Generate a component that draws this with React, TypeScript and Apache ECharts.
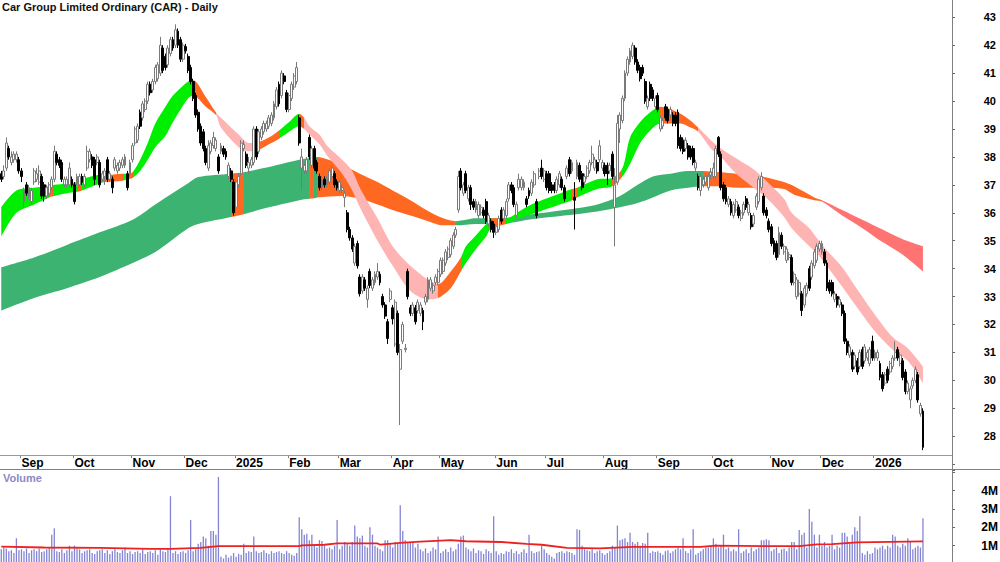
import React, { useEffect, useRef } from "react";
import * as echarts from "echarts";

// ---------- categories: ASX trading days shown on the chart ----------
const FIRST_DAY = "2024-08-21";
const LAST_DAY = "2026-01-30";
const HOLIDAYS = [
  "2024-12-25", "2024-12-26", "2025-01-01", "2025-01-27", "2025-04-18", "2025-04-21",
  "2025-04-25", "2025-06-09", "2025-12-25", "2025-12-26", "2026-01-01", "2026-01-26",
];
const EMPTY_SLOTS_AFTER_LAST_BAR = 11;
const MONTHS = ["Jan", "Feb", "Mar", "Apr", "May", "Jun", "Jul", "Aug", "Sep", "Oct", "Nov", "Dec"];

// ---------- daily candles, rows are [open, high, low, close] ----------
const ohlc: number[][] = [
  [37.4,37.5,37.1,37.2],[37.3,37.7,37.2,37.5],[37.6,38.7,37.5,38.5],[38.3,38.4,37.9,38.0],[37.8,38.2,37.7,38.0],
  [37.9,38.2,37.8,38.1],[37.9,38.2,37.8,38.1],[37.9,38.0,37.4,37.5],[37.5,37.6,37.1,37.3],[36.4,36.9,36.2,36.8],
  [37.0,37.1,36.6,36.7],[36.6,37.0,36.5,36.9],[36.4,36.9,36.3,36.8],[37.1,37.6,37.0,37.5],[37.2,37.6,37.1,37.4],
  [37.1,37.7,37.0,37.5],[37.3,37.4,36.5,36.6],[37.0,37.1,36.4,36.6],[36.6,37.0,36.5,36.9],[36.7,37.1,36.6,37.0],
  [36.9,37.3,36.8,37.2],[37.2,38.4,37.1,38.2],[38.1,38.2,37.7,37.8],[37.9,38.0,37.6,37.7],[37.8,37.9,37.1,37.2],
  [37.0,37.3,36.9,37.2],[37.0,37.3,36.9,37.2],[37.0,37.8,36.9,37.6],[37.2,37.3,36.9,37.0],[37.0,37.1,36.3,36.4],
  [37.1,37.4,37.0,37.3],[37.0,37.4,36.9,37.3],[37.3,37.4,37.0,37.1],[37.0,37.4,36.9,37.3],[37.6,38.4,37.5,38.2],
  [37.9,38.3,37.8,38.2],[38.0,38.1,37.6,37.7],[37.9,38.0,37.0,37.2],[37.8,38.1,37.7,38.0],[37.8,37.9,36.9,37.0],
  [37.2,37.5,37.1,37.4],[37.3,37.6,37.0,37.5],[37.9,38.0,37.1,37.2],[37.2,37.5,37.1,37.4],[37.2,37.3,36.7,36.9],
  [37.6,38.0,37.5,37.9],[37.5,37.8,37.4,37.7],[37.6,37.9,37.5,37.8],[37.7,38.0,37.6,37.9],[37.7,38.1,37.6,38.0],
  [37.4,37.5,36.8,36.9],[37.4,37.9,37.3,37.8],[37.9,38.5,37.8,38.4],[38.5,39.1,38.4,39.0],[38.6,39.2,38.5,39.1],
  [39.6,39.7,39.0,39.1],[39.4,40.0,39.3,39.9],[39.7,40.1,39.6,40.0],[40.0,40.7,39.9,40.6],[40.6,40.7,40.2,40.3],
  [40.4,40.8,40.3,40.7],[40.7,41.3,40.6,41.2],[40.8,41.4,40.7,41.3],[41.0,42.3,40.9,42.0],[41.9,42.0,41.0,41.1],
  [41.6,41.7,41.1,41.2],[41.3,42.0,41.2,41.9],[41.7,42.3,41.6,42.2],[42.2,42.3,41.8,41.9],[42.0,42.75,41.9,42.55],
  [42.5,42.6,41.9,42.0],[42.2,42.3,41.4,41.5],[41.5,42.1,41.4,42.0],[41.95,42.05,41.7,41.8],[41.6,41.7,41.0,41.1],
  [41.2,41.3,40.6,40.7],[40.7,40.8,40.0,40.1],[40.2,40.3,39.4,39.5],[39.6,39.7,38.9,39.0],[39.1,39.2,38.4,38.5],
  [38.9,39.0,38.2,38.3],[38.3,38.4,37.7,37.8],[37.6,38.6,37.5,38.4],[38.2,38.6,38.1,38.5],[38.4,38.9,38.3,38.7],
  [38.3,38.7,38.2,38.6],[38.0,38.1,37.4,37.5],[38.2,38.5,38.1,38.4],[38.3,38.4,38.0,38.1],[38.2,38.3,37.9,38.0],
  [37.3,37.8,37.2,37.7],[37.5,37.6,37.1,37.2],[37.1,37.2,35.9,36.0],[36.2,37.2,36.0,37.1],[37.0,37.4,36.9,37.3],
  [37.4,38.6,37.3,38.5],[38.3,38.6,38.2,38.45],[38.1,38.2,37.6,37.7],[37.6,38.0,37.4,37.8],[37.7,38.0,37.6,37.9],
  [37.8,39.1,37.7,39.0],[39.0,39.1,37.9,38.0],[38.2,39.0,38.1,38.9],[38.7,39.1,38.6,39.0],[38.9,39.3,38.8,39.2],
  [39.0,39.3,38.9,39.2],[39.1,39.5,39.0,39.4],[39.2,39.6,39.1,39.5],[39.4,40.0,39.3,39.9],[39.8,40.5,39.7,40.4],
  [40.6,40.7,39.8,39.9],[40.2,41.1,40.1,41.0],[40.9,41.0,40.6,40.7],[40.3,40.4,39.6,39.7],[39.7,40.3,39.6,40.2],
  [40.1,40.7,40.0,40.6],[40.5,41.0,40.4,40.9],[40.7,41.4,40.6,41.2],[39.4,39.5,38.4,38.5],[37.6,38.3,36.8,38.0],
  [37.5,37.8,37.4,37.7],[37.5,38.0,37.4,37.9],[38.7,38.8,37.9,38.0],[37.7,38.4,37.6,38.3],[38.3,38.4,37.5,37.6],
  [37.8,37.9,37.4,37.5],[37.3,37.4,36.8,36.9],[36.9,37.3,36.8,37.2],[37.2,37.3,36.9,37.0],[37.0,37.3,36.9,37.2],
  [37.1,37.6,37.0,37.5],[37.3,37.7,37.2,37.6],[37.4,37.5,36.9,37.0],[37.1,37.2,36.8,36.9],[36.8,37.2,36.7,37.1],
  [36.8,37.0,36.7,36.9],[36.55,36.8,36.2,36.7],[36.0,36.1,35.3,35.4],[35.4,35.5,35.0,35.1],[35.1,35.2,34.6,34.7],
  [34.2,34.9,34.1,34.8],[34.9,35.0,34.0,34.1],[33.7,33.8,33.0,33.1],[33.2,33.8,33.1,33.7],[33.6,33.7,33.2,33.3],
  [32.9,33.4,32.6,33.3],[33.9,34.0,33.3,33.4],[33.3,33.7,33.2,33.6],[33.5,33.9,33.4,33.8],[33.7,34.2,33.6,33.9],
  [33.8,33.9,33.4,33.5],[33.0,33.1,32.6,32.7],[32.7,32.8,32.2,32.3],[32.1,32.2,31.3,31.5],[32.9,33.3,32.8,33.2],
  [32.6,32.7,32.0,32.2],[31.3,32.9,31.2,32.8],[32.4,32.5,30.9,31.0],[30.4,31.3,28.4,31.1],[31.4,32.1,31.3,32.0],
  [31.1,31.3,31.0,31.15],[33.9,34.0,32.9,33.0],[32.6,32.7,32.3,32.4],[32.4,32.8,32.3,32.7],[32.6,32.7,32.0,32.1],
  [32.5,32.9,32.4,32.8],[32.4,32.8,32.3,32.7],[32.5,32.6,31.8,32.1],[32.8,33.1,32.7,33.0],[32.9,33.7,32.8,33.6],
  [33.3,33.7,33.2,33.6],[33.2,33.5,33.1,33.4],[33.5,33.8,33.4,33.7],[33.5,34.0,33.4,33.9],[33.8,34.4,33.7,34.3],
  [33.9,34.4,33.8,34.3],[34.2,34.7,34.1,34.6],[34.4,34.8,34.3,34.7],[34.5,35.1,34.4,35.0],[34.8,35.3,34.7,35.2],
  [35.2,35.5,35.1,35.4],[36.1,37.5,36.0,37.3],[37.5,37.6,36.8,36.9],[36.7,37.1,36.6,37.0],[37.4,37.5,36.7,36.8],
  [36.5,37.0,36.4,36.9],[36.9,37.0,36.1,36.3],[36.4,36.5,36.1,36.2],[36.1,36.5,36.0,36.4],[35.9,36.4,35.8,36.3],
  [36.0,36.3,35.9,36.2],[36.1,36.2,35.8,35.9],[36.4,36.5,35.6,35.7],[35.6,36.0,35.5,35.9],[35.7,35.8,35.3,35.4],
  [35.6,35.7,35.1,35.3],[35.3,35.6,35.2,35.5],[35.4,35.9,35.3,35.8],[36.1,36.2,35.6,35.7],[35.8,36.2,35.7,36.1],
  [35.9,36.5,35.8,36.4],[36.5,37.1,36.4,37.0],[37.0,37.1,36.7,36.8],[36.9,37.0,36.2,36.3],[35.9,36.4,35.8,36.3],
  [36.9,37.4,36.8,37.2],[36.9,37.3,36.8,37.2],[36.9,37.2,36.8,37.1],[36.5,36.6,36.2,36.3],[36.8,36.9,36.5,36.6],
  [36.7,37.2,36.6,37.1],[37.0,37.5,36.9,37.4],[36.4,36.5,35.8,35.9],[37.3,37.6,37.2,37.5],[37.6,37.9,37.2,37.3],
  [37.2,37.6,37.1,37.5],[37.4,37.5,36.8,36.9],[37.4,37.5,36.7,36.8],[37.0,37.1,36.7,36.8],[37.0,37.1,36.7,36.8],
  [36.8,37.3,36.7,37.2],[37.0,37.5,36.9,37.4],[37.2,37.3,36.8,36.9],[36.9,37.0,36.4,36.5],[37.3,37.7,37.2,37.6],
  [37.9,38.0,37.3,37.4],[37.5,37.9,37.4,37.8],[36.55,37.1,35.4,36.45],[37.3,37.9,37.2,37.8],[37.7,37.8,37.1,37.2],
  [37.4,37.5,36.8,36.9],[37.1,37.4,37.0,37.3],[37.3,37.7,37.2,37.6],[37.5,37.9,37.4,37.8],[37.8,38.4,37.7,38.1],
  [37.6,38.0,37.5,37.9],[37.8,37.9,37.4,37.5],[37.9,38.6,37.8,38.4],[37.6,37.9,37.5,37.8],[37.7,37.8,37.3,37.4],
  [37.7,37.8,37.0,37.4],[37.5,37.8,37.4,37.7],[38.1,38.2,37.2,37.3],[36.2,37.6,34.8,37.0],[37.1,39.5,37.0,39.2],
  [39.0,39.6,38.5,39.5],[39.3,40.2,39.2,40.1],[40.1,41.1,40.0,41.0],[41.0,41.6,40.9,41.5],[41.4,41.9,41.3,41.8],
  [41.6,42.1,41.5,42.0],[41.9,42.0,41.3,41.4],[41.4,41.5,41.0,41.1],[41.2,41.3,40.7,40.8],[41.2,41.3,40.9,41.0],
  [40.7,40.8,39.9,40.0],[39.8,40.2,39.7,40.1],[40.6,40.7,40.0,40.1],[40.4,40.5,40.0,40.1],[39.8,40.2,39.7,40.1],
  [40.2,40.3,39.6,39.7],[39.0,39.5,38.9,39.4],[39.1,39.4,39.0,39.3],[39.8,39.9,39.3,39.4],[39.7,39.8,39.2,39.3],
  [39.5,39.8,39.4,39.7],[39.5,39.6,39.1,39.2],[39.5,39.6,39.1,39.2],[39.6,39.7,38.3,38.4],[38.7,38.8,38.2,38.3],
  [38.6,38.7,38.1,38.2],[38.3,38.7,38.2,38.6],[38.4,38.5,37.9,38.0],[38.3,38.4,37.9,38.0],[38.3,38.4,37.7,37.8],
  [37.6,37.9,37.5,37.8],[37.3,37.4,36.8,36.9],[36.8,37.4,36.6,37.3],[37.0,37.3,36.9,37.2],[37.1,37.4,37.0,37.3],
  [36.9,37.4,36.8,37.3],[37.35,37.6,37.2,37.45],[37.3,37.8,37.2,37.6],[37.3,38.4,37.2,38.3],[38.7,38.75,38.0,38.1],
  [38.1,38.2,36.8,36.9],[37.0,37.1,36.4,36.5],[36.9,37.0,36.3,36.4],[36.3,36.6,36.2,36.5],[36.4,36.5,35.9,36.0],
  [35.9,36.4,35.8,36.3],[36.1,36.5,36.0,36.4],[36.2,36.3,35.8,35.9],[35.8,36.1,35.7,36.0],[36.0,36.4,35.9,36.3],
  [36.5,36.6,36.1,36.2],[36.0,36.4,35.9,36.3],[35.9,36.0,35.4,35.5],[35.6,36.0,35.5,35.9],[36.2,36.7,36.1,36.6],
  [36.4,37.3,36.3,37.2],[36.9,37.45,36.8,37.3],[36.6,36.7,35.9,36.0],[36.1,36.2,35.8,35.9],[35.7,35.8,35.3,35.4],
  [35.5,35.6,34.8,34.9],[35.0,35.1,34.5,34.6],[34.9,35.0,34.3,34.4],[34.5,35.5,34.4,35.3],[35.2,35.3,34.7,34.8],
  [34.6,34.9,34.5,34.8],[34.3,34.8,34.2,34.7],[34.4,34.6,34.3,34.5],[34.4,34.5,33.4,33.5],[33.5,33.9,33.4,33.8],
  [33.0,33.7,32.9,33.6],[33.1,33.6,33.0,33.5],[33.1,33.2,32.3,32.5],[32.7,33.4,32.6,33.3],[33.1,33.5,33.0,33.4],
  [34.0,34.1,33.2,33.3],[33.7,34.3,33.6,34.2],[34.1,34.7,34.0,34.6],[34.3,34.9,34.2,34.8],[34.7,35.0,34.6,34.9],
  [34.6,35.0,34.5,34.9],[34.6,34.7,34.1,34.2],[34.2,34.3,33.2,33.3],[33.5,33.6,33.1,33.2],[33.5,33.6,33.0,33.1],
  [32.9,33.2,32.8,33.1],[33.0,33.1,32.6,32.7],[32.7,33.0,32.6,32.9],[32.7,32.8,32.3,32.4],[32.4,32.5,31.3,31.4],
  [31.4,31.5,30.9,31.0],[30.9,31.3,30.8,31.2],[31.0,31.1,30.3,30.4],[30.5,31.0,30.4,30.9],[30.7,30.8,30.2,30.3],
  [30.5,31.1,30.4,31.0],[31.1,31.2,30.4,30.5],[30.7,31.3,30.6,31.2],[30.8,31.1,30.7,31.0],[30.6,31.2,30.5,31.1],
  [31.4,31.6,30.7,30.8],[30.8,31.1,30.7,31.0],[30.8,31.1,30.7,31.0],[30.6,30.7,30.0,30.1],[30.2,30.3,29.6,29.7],
  [29.9,30.3,29.8,30.2],[30.4,30.5,29.9,30.0],[30.3,30.7,30.2,30.6],[30.5,30.9,30.4,30.8],[30.8,31.4,30.7,31.0],
  [31.1,31.2,30.7,30.8],[30.6,31.0,30.5,30.9],[30.7,30.8,30.0,30.1],[30.3,30.4,29.5,29.6],[29.6,30.0,29.5,29.9],
  [29.3,29.8,29.0,29.7],[29.8,30.1,29.7,30.0],[30.0,30.5,29.9,30.4],[30.2,30.3,29.2,29.3],[28.8,29.2,28.7,29.1],
  [28.9,29.0,27.5,27.6],
];

// ---------- daily volume, millions of shares ----------
const volume: number[] = [
  0.8,0.9,0.85,0.7,0.75,0.6,1.4,0.75,0.8,0.7, 0.85,0.6,0.75,0.8,0.7,0.85,0.65,0.7,0.8,0.9,
  1.6,1.95,0.7,0.65,0.8,0.6,0.75,1.0,0.7,1.0, 0.85,0.8,0.6,0.7,0.75,0.8,0.6,0.55,0.7,0.75,
  0.8,0.6,0.75,0.55,0.7,0.8,0.65,0.6,0.75,0.9, 0.6,0.7,0.55,0.65,0.7,0.6,0.8,0.55,0.65,0.7,
  0.6,0.75,0.5,0.8,0.7,0.65,0.8,3.7,0.6,0.7, 0.55,0.65,0.7,0.6,0.75,2.4,0.7,0.8,1.1,1.2,
  1.5,1.4,1.0,1.8,1.8,1.6,4.75,0.4,0.3,0.5, 0.35,0.45,0.6,0.4,0.55,0.5,1.1,0.6,0.7,0.65,
  1.5,0.7,0.6,0.65,0.75,0.6,0.55,0.7,0.6,0.65, 0.7,0.6,0.55,0.7,0.6,0.5,0.45,0.6,2.55,1.9,
  1.6,1.65,1.3,1.6,1.0,0.9,1.3,1.25,1.0,0.85, 0.9,0.8,1.0,2.4,0.8,1.0,1.2,1.15,1.0,1.2,
  2.1,1.5,1.4,1.55,1.0,0.9,2.0,1.6,1.0,0.9, 0.8,0.7,1.3,1.3,1.1,0.9,1.2,1.1,3.2,1.8,
  1.3,1.2,1.15,1.2,0.9,1.1,0.8,0.7,0.85,0.6, 0.7,0.9,0.8,1.5,0.6,0.7,0.8,0.65,0.9,0.7,
  0.8,1.1,1.5,1.55,0.9,0.8,0.7,0.85,0.6,0.75, 0.7,0.55,0.8,0.7,0.6,2.6,0.7,0.5,0.6,0.55,
  0.7,0.65,0.8,0.6,0.7,0.55,0.65,0.8,0.6,1.6, 0.7,0.6,0.65,0.7,1.0,0.8,0.6,0.5,0.4,0.3,
  0.6,0.65,0.7,0.6,0.7,0.65,0.6,0.5,1.9,1.85, 1.0,0.8,0.75,0.7,0.8,0.6,0.7,0.75,0.6,0.5,
  0.6,0.7,1.0,0.9,2.1,1.3,1.35,1.4,1.2,1.7, 1.2,1.1,1.2,1.0,1.15,1.1,1.7,0.6,0.7,0.65,
  0.7,0.6,0.5,0.7,0.75,0.6,0.7,0.8,0.9,0.8, 1.4,0.7,0.6,0.8,1.9,0.5,0.6,0.7,0.8,0.9,
  0.9,1.0,1.4,1.1,0.9,1.0,1.6,0.8,0.9,0.7, 0.8,0.7,1.9,0.6,0.7,0.8,0.6,0.9,0.7,0.8,
  0.9,1.3,1.3,1.35,1.3,0.7,0.8,0.9,0.6,0.8, 0.85,0.7,0.9,1.2,1.2,0.8,1.85,1.6,1.7,0.9,
  3.0,2.3,1.6,0.9,1.6,1.0,1.2,0.9,1.0,1.6, 0.8,1.0,0.9,1.7,1.7,1.5,1.1,1.6,2.0,1.8,
  2.6,0.6,0.5,0.7,0.55,0.6,0.9,0.8,0.9,1.0, 0.8,1.0,0.9,1.6,1.5,1.0,0.9,1.1,1.0,1.4,
  1.2,0.8,0.9,1.0,0.9,2.5,
];

// ---------- volume average line (red), read at these bars ----------
const volAvgBar = [0,17,39,59,67,79,86,118,119,128,133,149,150,158,166,178,184,198,208,214,224,237,250,277,283,303,316,323,329,339,365];
const volAvgVal = [0.95,0.9,0.88,0.82,0.83,0.88,0.98,0.98,1.02,1.05,1.12,1.12,1.06,1.15,1.22,1.3,1.24,1.2,1.1,1.05,0.88,0.85,0.93,0.93,1.0,0.97,0.98,1.07,1.08,1.18,1.23];

// ---------- short-term moving-average ribbon (edges read at these bars) ----------
// state of the ribbon from this bar to the next: U = rising, T = transition, D = falling
const shortBar   = [0,6,13,19,21,26,30,32,39,41,48,50,52,55,58,61,65,68,74,76,81,85,87,94,98,100,106,110,114,118,120,122,126,129,135,139,142,149,155,162,169,173,178,182,184,188,192,194,200,205,210,223,226,228,236,242,246,249,253,257,261,269,273,276,281,285,291,298,304,310,313,320,323,326,333,339,346,353,359,365];
const shortUpper = [36.2,36.8,36.9,36.95,37.0,37.05,37.1,37.2,37.35,37.35,37.4,37.4,37.45,37.9,38.5,39.2,39.8,40.2,40.7,40.75,40.15,39.6,39.4,38.8,38.5,38.5,38.7,38.95,39.25,39.55,39.4,39.1,38.8,38.4,37.9,37.5,36.9,35.8,34.8,34.1,33.6,33.45,33.9,34.4,34.8,35.2,35.6,35.8,35.8,36.05,36.3,36.75,36.85,36.9,37.2,37.25,37.6,38.7,39.25,39.6,39.8,39.55,39.3,39.05,38.6,38.3,37.95,37.55,37.05,36.5,36.0,35.45,35.1,34.75,34.05,33.25,32.35,31.55,31.15,30.5];
const shortLower = [35.15,36.0,36.3,36.55,36.6,36.7,36.75,36.8,37.05,37.1,37.15,37.2,37.25,37.5,37.9,38.35,38.75,39.25,40.1,40.2,39.8,39.5,39.05,38.35,38.2,38.2,38.45,38.65,38.9,39.1,39.0,38.8,38.45,38.05,37.4,36.8,36.2,35.0,34.1,33.2,32.9,32.95,33.3,33.9,34.2,34.7,35.15,35.45,35.6,35.8,35.95,36.35,36.45,36.55,36.85,36.95,37.3,37.75,38.5,38.95,39.2,39.2,39.05,38.9,38.3,38.0,37.4,36.9,36.45,35.85,35.45,34.8,34.55,34.2,33.35,32.6,31.75,31.1,30.7,29.9];
const shortState = ["U","U","U","T","U","U","T","U","U","T","U","T","U","U","U","U","U","U","U","T","T","D","D","D","D","T","T","U","U","T","D","D","D","D","D","D","D","D","D","D","D","T","T","U","U","U","U","T","U","U","U","U","T","U","U","T","U","U","U","U","T","T","T","D","D","D","D","D","D","D","D","D","D","D","D","D","D","D","D","D"];

// ---------- long-term moving-average ribbon ----------
const longBar   = [0,13,26,39,52,61,74,78,91,96,104,118,122,124,125,135,142,149,155,162,169,175,180,188,197,210,223,236,245,252,258,265,272,278,285,291,298,304,310,314,322,325,333,341,349,357,365];
const longUpper = [34.05,34.4,34.85,35.3,35.75,36.3,37.06,37.28,37.4,37.45,37.6,37.9,37.95,37.98,38.0,37.7,37.4,37.1,36.8,36.45,36.06,35.8,35.7,35.8,35.8,35.95,36.1,36.3,36.6,37.0,37.3,37.4,37.5,37.5,37.45,37.4,37.35,37.25,37.1,36.95,36.55,36.45,36.1,35.75,35.4,35.05,34.8];
const longLower = [32.5,32.95,33.3,33.7,34.2,34.6,35.45,35.6,35.85,35.95,36.15,36.45,36.5,36.52,36.55,36.6,36.5,36.3,36.1,35.9,35.7,35.55,35.55,35.6,35.6,35.77,35.9,36.05,36.2,36.35,36.55,36.8,36.9,36.95,36.95,36.9,36.9,36.9,36.85,36.65,36.45,36.4,35.9,35.45,34.95,34.5,33.9];
const longState = ["U","U","U","U","U","U","U","U","T","U","U","U","T","U","T","T","T","T","T","T","T","T","U","U","U","U","U","U","U","U","U","U","U","T","T","T","T","T","T","T","T","D","D","D","D","D","D"];

// ---------- axis ticks ----------
const priceTicks = { min: 27, max: 44, step: 1, firstLabel: 28, lastLabel: 43 };
const volumeTicks = { step: 1, firstLabel: 1, lastLabel: 4 };

// ---------- styles ----------
const FONT = "'Liberation Sans Narrow', 'Arial Narrow', 'Liberation Sans', Arial, sans-serif";
const SHORT_COLORS: Record<string, string> = { U: "#00ee00", T: "#ff6820", D: "#ffb4b4" };
const LONG_COLORS: Record<string, string> = { U: "#3cb371", T: "#ff6820", D: "#ff7373" };

function tradingDays(): string[] {
  const out: string[] = [];
  const d = new Date(FIRST_DAY + "T00:00:00Z");
  const end = new Date(LAST_DAY + "T00:00:00Z");
  while (d.getTime() <= end.getTime()) {
    const wd = d.getUTCDay();
    const s = d.toISOString().slice(0, 10);
    if (wd !== 0 && wd !== 6 && !HOLIDAYS.includes(s)) out.push(s);
    d.setUTCDate(d.getUTCDate() + 1);
  }
  return out;
}

function pieces(bars: number[], states: string[], colors: Record<string, string>) {
  return bars.map((b, k) =>
    k < bars.length - 1
      ? { gte: b, lt: bars[k + 1], color: colors[states[k]] }
      : { gte: b, lte: b + 1, color: colors[states[k]] }
  );
}

function buildOption() {
  const days = tradingDays();
  const cats = days.concat(Array.from({ length: EMPTY_SLOTS_AFTER_LAST_BAR }, (_, k) => "pad" + k));
  const isMonthStart = (i: number) =>
    i > 0 && i < days.length && days[i].slice(0, 7) !== days[i - 1].slice(0, 7);
  const monthLabel = (value: string) => {
    const m = Number(value.slice(5, 7));
    return m === 1 ? value.slice(0, 4) : MONTHS[m - 1];
  };

  const PRICE_TOP = -10.63;
  const PRICE_H = 474.76;
  const VOL_TOP = 470;
  const VOL_H = 94;
  const VOL_MAX = 5.128;

  const ribbon = (name: string, bars: number[], up: number[], lo: number[], z: number) => [
    {
      type: "line", name: name + "-base", stack: name, xAxisIndex: 0, yAxisIndex: 0,
      data: bars.map((b, k) => [b, lo[k]]), symbol: "none", smooth: 0.3,
      lineStyle: { opacity: 0, width: 0 }, silent: true, z,
    },
    {
      type: "line", name: name + "-band", stack: name, xAxisIndex: 0, yAxisIndex: 0,
      data: bars.map((b, k) => [b, +(up[k] - lo[k]).toFixed(3)]), symbol: "none", smooth: 0.3,
      lineStyle: { width: 0 }, areaStyle: { opacity: 1 }, silent: true, z,
    },
  ];

  return {
    animation: false,
    backgroundColor: "#ffffff",
    grid: [
      { left: 0, width: 952, top: PRICE_TOP, height: PRICE_H, outerBoundsMode: "none", containLabel: false },
      { left: 0, width: 952, top: VOL_TOP, height: VOL_H, outerBoundsMode: "none", containLabel: false },
    ],
    xAxis: [
      {
        type: "category", gridIndex: 0, data: cats, boundaryGap: true, position: "bottom",
        offset: -9,
        axisLine: { show: false },
        axisTick: { show: true, interval: (i: number) => isMonthStart(i), length: 3, lineStyle: { color: "#808080" } },
        axisLabel: {
          show: true, interval: (i: number) => isMonthStart(i),
          formatter: (v: string) => monthLabel(v), align: "left", margin: 2,
          fontFamily: FONT, fontWeight: "bold", fontSize: 12, color: "#000",
        },
        splitLine: { show: false },
      },
      {
        type: "category", gridIndex: 1, data: cats, boundaryGap: true,
        axisLine: { show: false }, axisTick: { show: false }, axisLabel: { show: false }, splitLine: { show: false },
      },
    ],
    yAxis: [
      {
        type: "value", gridIndex: 0, position: "right", min: priceTicks.min, max: priceTicks.max,
        interval: priceTicks.step, scale: false,
        axisLine: { show: false },
        axisTick: { show: true, length: 3, lineStyle: { color: "#606060" } },
        axisLabel: {
          formatter: (v: number) => (v >= priceTicks.firstLabel && v <= priceTicks.lastLabel ? String(v) : ""),
          align: "right", margin: 44, fontFamily: FONT, fontWeight: "bold", fontSize: 11, color: "#000",
        },
        splitLine: { show: false },
      },
      {
        type: "value", gridIndex: 1, position: "right", min: 0, max: VOL_MAX, interval: volumeTicks.step,
        axisLine: { show: false },
        axisTick: { show: true, length: 3, lineStyle: { color: "#606060" } },
        axisLabel: {
          formatter: (v: number) =>
            v >= volumeTicks.firstLabel && v <= volumeTicks.lastLabel && Number.isInteger(v) ? v + "M" : "",
          align: "right", margin: 46, fontFamily: FONT, fontWeight: "bold", fontSize: 12, color: "#000",
        },
        splitLine: { show: false },
      },
    ],
    visualMap: [
      { type: "piecewise", show: false, dimension: 0, seriesIndex: 1, pieces: pieces(longBar, longState, LONG_COLORS) },
      { type: "piecewise", show: false, dimension: 0, seriesIndex: 3, pieces: pieces(shortBar, shortState, SHORT_COLORS) },
    ],
    series: [
      ...ribbon("long", longBar, longUpper, longLower, 1),
      ...ribbon("short", shortBar, shortUpper, shortLower, 2),
      {
        type: "candlestick", xAxisIndex: 0, yAxisIndex: 0, z: 5, barWidth: 2.4,
        data: ohlc.map(([o, h, l, c]) => [o, c, l, h]),
        itemStyle: { color: "#ffffff", color0: "#000000", borderColor: "#7a7a7a", borderColor0: "#000000", borderWidth: 1 },
        silent: true,
      },
      {
        type: "bar", xAxisIndex: 1, yAxisIndex: 1, data: volume, barWidth: 1.3,
        itemStyle: { color: "#8484d4" }, silent: true, z: 2,
      },
      {
        type: "line", xAxisIndex: 1, yAxisIndex: 1, data: volAvgBar.map((b, k) => [b, volAvgVal[k]]),
        symbol: "none", lineStyle: { color: "#ee2020", width: 1.8 }, silent: true, z: 3,
      },
    ],
    graphic: [
      { type: "line", shape: { x1: 0, y1: 455.5, x2: 952, y2: 455.5 }, style: { stroke: "#9a9a9a", lineWidth: 1 }, z: 10 },
      { type: "line", shape: { x1: 0, y1: 469.5, x2: 1000, y2: 469.5 }, style: { stroke: "#808080", lineWidth: 1 }, z: 10 },
      { type: "line", shape: { x1: 952.5, y1: 0, x2: 952.5, y2: 562 }, style: { stroke: "#808080", lineWidth: 1 }, z: 10 },
      {
        type: "text", x: 2, y: 1, z: 10,
        style: { text: "Car Group Limited Ordinary (CAR) - Daily", fill: "#111", font: "bold 11px " + FONT, verticalAlign: "top" },
      },
      {
        type: "text", x: 3, y: 472, z: 10,
        style: { text: "Volume", fill: "#8a8ac8", font: "bold 11px " + FONT, verticalAlign: "top" },
      },
    ],
  };
}

export default function App() {
  const ref = useRef<HTMLDivElement>(null);
  useEffect(() => {
    if (!ref.current) return;
    const chart = echarts.init(ref.current, null, { renderer: "svg" });
    chart.setOption(buildOption() as any);
    return () => chart.dispose();
  }, []);
  return (
    <div
      ref={ref}
      style={{ position: "fixed", left: 0, top: 0, width: 1000, height: 562, background: "#fff" }}
    />
  );
}
